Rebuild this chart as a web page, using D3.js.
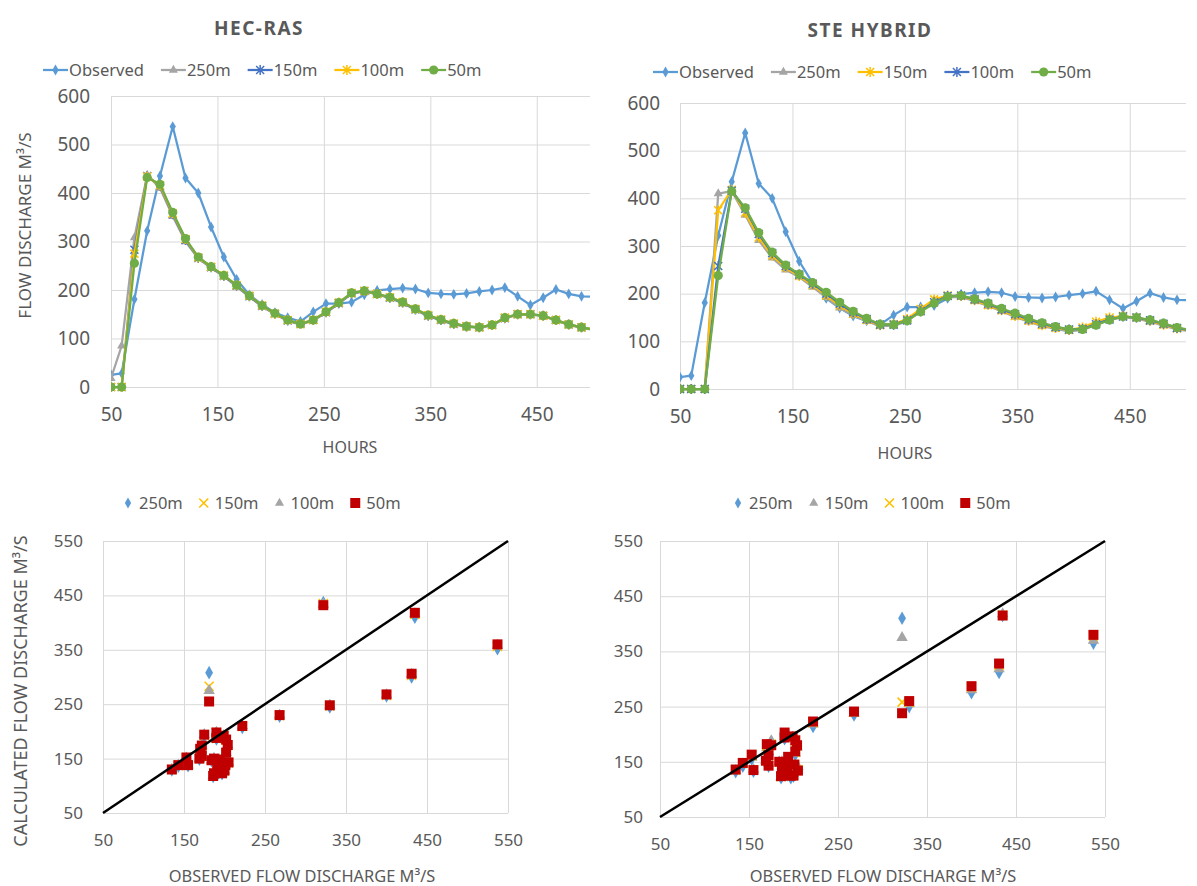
<!DOCTYPE html>
<html><head><meta charset="utf-8">
<script src="https://cdn.jsdelivr.net/npm/d3@7"></script>
<style>
body{margin:0;background:#fff;}
text{font-family:"Noto Sans",sans-serif;fill:#595959;}
</style>
</head><body>
<svg id="c" width="1197" height="886"></svg>
<script>
// ---------------- DATA ----------------
const hours = [50,60,72,84,96,108,120,132,144,156,168,180,192,204,216,228,240,252,264,276,288,300,312,324,336,348,360,372,384,396,408,420,432,444,456,468,480,492,504];
const observed = [25,28,181,322,435,537,431,400,330,268,222,190,170,153,143,135,155,172,172,175,190,199,202,204,202,194,192,191,193,197,200,205,187,169,184,201,192,187,186];

// HEC-RAS simulations
const hec250 = [18,85,308,437,410,352,300,265,245,228,207,186,166,150,136,129,137,153,172,192,197,191,183,173,159,146,137,129,124,122,127,141,149,149,146,137,128,122,117];
const hec150 = [0,0,283,435,415,356,303,266,247,229,209,187,167,151,137,130,138,154,173,193,198,192,184,174,160,147,138,130,125,123,128,142,150,150,147,138,129,123,118];
const hec100 = [0,0,275,434,416,358,305,267,248,230,210,188,168,151,138,130,138,155,174,194,198,192,185,175,161,148,139,131,125,123,128,143,150,150,147,138,129,123,118];
const hec50  = [0,0,255,432,418,360,306,268,248,230,210,188,168,152,138,130,138,155,174,194,198,192,185,175,161,148,139,131,125,123,128,143,150,150,147,138,129,123,118];

// STE HYBRID simulations
const ste250 = [0,0,0,410,415,365,312,275,250,235,214,192,170,155,142,132,133,142,165,186,193,193,184,174,163,151,141,132,126,121,124,136,146,150,148,141,133,125,121];
const ste150 = [0,0,0,375,418,370,318,280,255,237,218,196,175,158,145,134,136,147,168,188,196,195,186,176,165,153,143,134,128,124,129,141,150,153,150,143,135,127,122];
const ste100 = [0,0,0,258,416,378,325,285,258,240,221,200,179,161,147,135,135,144,163,182,195,196,188,179,167,157,146,137,130,125,126,136,146,152,150,144,137,128,123];
const ste50  = [0,0,0,238,415,380,328,287,260,241,223,203,182,163,148,136,135,143,162,180,194,196,189,180,169,159,148,139,131,125,125,134,145,152,150,145,138,129,124];

const lineXTicks = [50,150,250,350,450];
const lineYTicks = [0,100,200,300,400,500,600];
const scatterTicks = [50,150,250,350,450,550];

// ---------------- STYLE ----------------
const C = {obs:'#5B9BD5', gray:'#A5A5A5', blue:'#4472C4', yellow:'#FFC000', green:'#70AD47', red:'#C00000', grid:'#D9D9D9', text:'#595959'};

const svg = d3.select('#c');

function marker(g, type, color, cx, cy, big) {
  const k = big ? 1.25 : 1;
  if (type === 'diamond') {
    g.append('path').attr('d', d3.symbol(d3.symbolDiamond, 34*k*k)()).attr('transform',`translate(${cx},${cy})`).attr('fill',color);
  } else if (type === 'triangle') {
    g.append('path').attr('d', d3.symbol(d3.symbolTriangle, 36*k*k)()).attr('transform',`translate(${cx},${cy})`).attr('fill',color);
  } else if (type === 'star') {
    const s = 4;
    g.append('path').attr('d',`M${-s},${-s}L${s},${s}M${-s},${s}L${s},${-s}M0,${-s-1}L0,${s+1}`)
      .attr('transform',`translate(${cx},${cy})`).attr('stroke',color).attr('stroke-width',1.5).attr('fill','none');
  } else if (type === 'x') {
    const s = 4.5;
    g.append('path').attr('d',`M${-s},${-s}L${s},${s}M${-s},${s}L${s},${-s}`)
      .attr('transform',`translate(${cx},${cy})`).attr('stroke',color).attr('stroke-width',1.6).attr('fill','none');
  } else if (type === 'circle') {
    g.append('circle').attr('cx',cx).attr('cy',cy).attr('r',4.6).attr('fill',color);
  } else if (type === 'square') {
    g.append('rect').attr('x',cx-5).attr('y',cy-5).attr('width',10).attr('height',10).attr('fill',color);
  }
}

function lineChart(cfg) {
  const g = svg.append('g');
  const x = d3.scaleLinear().domain([50,500]).range([cfg.x0,cfg.x1]);
  const y = d3.scaleLinear().domain([0,600]).range([cfg.y1,cfg.y0]);
  // axes with gridlines
  const ay = g.append('g').attr('transform',`translate(${cfg.x0},0)`)
    .call(d3.axisLeft(y).tickValues(lineYTicks).tickSize(-(cfg.x1-cfg.x0)).tickPadding(cfg.yPad));
  const ax = g.append('g').attr('transform',`translate(0,${cfg.y1})`)
    .call(d3.axisBottom(x).tickValues(lineXTicks).tickSize(-(cfg.y1-cfg.y0)).tickPadding(21));
  [ax,ay].forEach(a=>{
    a.select('.domain').remove();
    a.selectAll('line').attr('stroke',C.grid).attr('stroke-width',1);
    a.selectAll('text').style('font-size','19px').style('font-family','"Noto Sans",sans-serif').attr('fill',C.text);
  });
  const clipId = 'clip'+cfg.id;
  svg.append('clipPath').attr('id',clipId).append('rect')
    .attr('x',cfg.x0).attr('y',cfg.y0-10).attr('width',cfg.x1-cfg.x0).attr('height',cfg.y1-cfg.y0+20);
  const sg = g.append('g').attr('clip-path',`url(#${clipId})`);
  const line = d3.line().x((d,i)=>x(hours[i])).y(d=>y(d));
  cfg.series.forEach(s=>{
    sg.append('path').datum(s.data).attr('d',line).attr('fill','none')
      .attr('stroke',s.color).attr('stroke-width',2.25).attr('stroke-linejoin','round');
    s.data.forEach((v,i)=>{ if (hours[i] <= 500) marker(sg, s.marker, s.color, x(hours[i]), y(v)); });
  });
  // title
  g.append('text').attr('x',cfg.titleX).attr('y',cfg.titleY).attr('text-anchor','middle')
    .style('font-size','19px').style('font-weight','bold').style('letter-spacing','1.5px').text(cfg.title);
  // legend
  let lx = cfg.legX;
  cfg.series.forEach(s=>{
    g.append('line').attr('x1',lx).attr('x2',lx+25).attr('y1',cfg.legY).attr('y2',cfg.legY)
      .attr('stroke',s.color).attr('stroke-width',2.25);
    marker(g, s.marker, s.color, lx+12.5, cfg.legY);
    const t = g.append('text').attr('x',lx+26).attr('y',cfg.legY+6).style('font-size','16.5px').text(s.name);
    lx += 26 + t.node().getComputedTextLength() + 17;
  });
  // axis titles
  if (cfg.yTitle) {
    g.append('text').attr('transform',`translate(${cfg.yTitleX},${(cfg.y0+cfg.y1)/2-16}) rotate(-90)`)
      .attr('text-anchor','middle').style('font-size','17px').text(cfg.yTitle);
  }
  g.append('text').attr('x',cfg.xTitleX).attr('y',cfg.xTitleY).attr('text-anchor','middle')
    .style('font-size','16px').text('HOURS');
}

function scatterChart(cfg) {
  const g = svg.append('g');
  const x = d3.scaleLinear().domain([50,550]).range([cfg.x0,cfg.x1]);
  const y = d3.scaleLinear().domain([50,550]).range([cfg.y1,cfg.y0]);
  const ay = g.append('g').attr('transform',`translate(${cfg.x0},0)`)
    .call(d3.axisLeft(y).tickValues(scatterTicks).tickSize(-(cfg.x1-cfg.x0)).tickPadding(cfg.yPad));
  const ax = g.append('g').attr('transform',`translate(0,${cfg.y1})`)
    .call(d3.axisBottom(x).tickValues(scatterTicks).tickSize(-(cfg.y1-cfg.y0)).tickPadding(21));
  [ax,ay].forEach(a=>{
    a.select('.domain').remove();
    a.selectAll('line').attr('stroke',C.grid).attr('stroke-width',1);
    a.selectAll('text').style('font-size','17px').style('font-family','"Noto Sans",sans-serif').attr('fill',C.text);
  });
  const clipId = 'sclip'+cfg.id;
  svg.append('clipPath').attr('id',clipId).append('rect')
    .attr('x',cfg.x0-6).attr('y',cfg.y0-6).attr('width',cfg.x1-cfg.x0+12).attr('height',cfg.y1-cfg.y0+12);
  const sg = g.append('g').attr('clip-path',`url(#${clipId})`);
  cfg.series.forEach(s=>{
    s.data.forEach((v,i)=>{
      const o = observed[i];
      if (o>=50 && o<=550 && v>=50 && v<=550) marker(sg, s.marker, s.color, x(o), y(v), true);
    });
  });
  // 1:1 line
  g.append('line').attr('x1',x(50)).attr('y1',y(50)).attr('x2',x(550)).attr('y2',y(550))
    .attr('stroke','#000').attr('stroke-width',2.5);
  // legend
  let lx = cfg.legX;
  cfg.series.forEach(s=>{
    marker(g, s.marker, s.color, lx, cfg.legY, s.marker==='square'?false:false);
    const t = g.append('text').attr('x',lx+11).attr('y',cfg.legY+6).style('font-size','16.5px').text(s.name);
    lx += 11 + t.node().getComputedTextLength() + 21;
  });
  if (cfg.yTitle) {
    g.append('text').attr('transform',`translate(${cfg.yTitleX},${(cfg.y0+cfg.y1)/2+14}) rotate(-90)`)
      .attr('text-anchor','middle').style('font-size','18px').text(cfg.yTitle);
  }
  g.append('text').attr('x',cfg.xTitleX).attr('y',cfg.xTitleY).attr('text-anchor','middle')
    .style('font-size','16.4px').text('OBSERVED FLOW DISCHARGE M³/S');
}

lineChart({
  id:'a', x0:111, x1:590, y0:96, y1:387, yPad:21,
  title:'HEC-RAS', titleX:259, titleY:35, legX:43, legY:70,
  yTitle:'FLOW DISCHARGE M³/S', yTitleX:31, xTitleX:350, xTitleY:453,
  series:[
    {name:'Observed', data:observed, color:C.obs, marker:'diamond'},
    {name:'250m', data:hec250, color:C.gray, marker:'triangle'},
    {name:'150m', data:hec150, color:C.blue, marker:'star'},
    {name:'100m', data:hec100, color:C.yellow, marker:'star'},
    {name:'50m', data:hec50, color:C.green, marker:'circle'}
  ]
});
lineChart({
  id:'b', x0:680, x1:1186, y0:103, y1:389, yPad:20,
  title:'STE HYBRID', titleX:870, titleY:37, legX:653, legY:72,
  yTitle:null, xTitleX:905, xTitleY:459,
  series:[
    {name:'Observed', data:observed, color:C.obs, marker:'diamond'},
    {name:'250m', data:ste250, color:C.gray, marker:'triangle'},
    {name:'150m', data:ste150, color:C.yellow, marker:'star'},
    {name:'100m', data:ste100, color:C.blue, marker:'star'},
    {name:'50m', data:ste50, color:C.green, marker:'circle'}
  ]
});
scatterChart({
  id:'c', x0:103, x1:508, y0:541, y1:813, yPad:20,
  legX:128, legY:503, yTitle:'CALCULATED FLOW DISCHARGE M³/S', yTitleX:27,
  xTitleX:302, xTitleY:882,
  series:[
    {name:'250m', data:hec250, color:C.obs, marker:'diamond'},
    {name:'150m', data:hec150, color:C.yellow, marker:'x'},
    {name:'100m', data:hec100, color:C.gray, marker:'triangle'},
    {name:'50m', data:hec50, color:C.red, marker:'square'}
  ]
});
scatterChart({
  id:'d', x0:660, x1:1105, y0:541, y1:817, yPad:17,
  legX:738, legY:503, yTitle:null,
  xTitleX:883, xTitleY:882,
  series:[
    {name:'250m', data:ste250, color:C.obs, marker:'diamond'},
    {name:'150m', data:ste150, color:C.gray, marker:'triangle'},
    {name:'100m', data:ste100, color:C.yellow, marker:'x'},
    {name:'50m', data:ste50, color:C.red, marker:'square'}
  ]
});
</script>
</body></html>
